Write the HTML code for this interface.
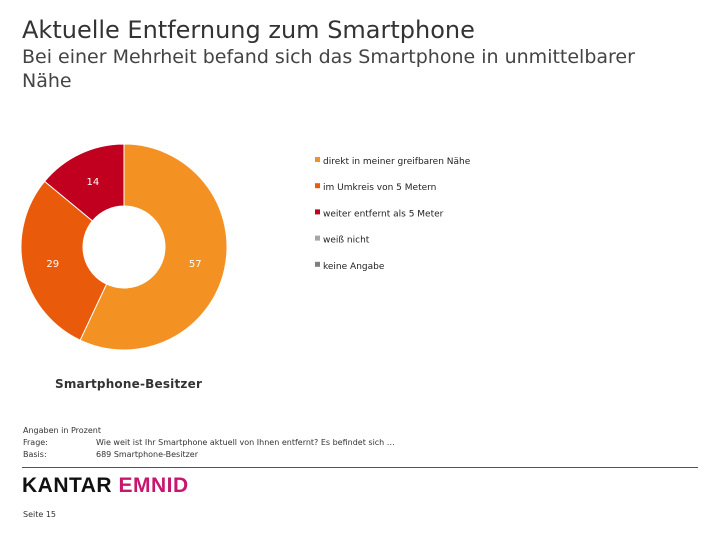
<!DOCTYPE html>
<html><head><meta charset="utf-8"><style>
body{margin:0;width:720px;height:540px;background:#fff;font-family:"Liberation Sans","DejaVu Sans",sans-serif;color:#222;position:relative;overflow:hidden}
.a{position:absolute;white-space:nowrap}
</style></head><body>
<div class="a" style="left:22px;top:16px;font-size:24px;color:#333;font-family:'DejaVu Sans',sans-serif">Aktuelle Entfernung zum Smartphone</div>
<div class="a" style="left:22px;top:45px;font-size:19px;line-height:24px;color:#444;white-space:normal;width:660px;font-family:'DejaVu Sans',sans-serif">Bei einer Mehrheit befand sich das Smartphone in unmittelbarer Nähe</div>
<svg class="a" style="left:0;top:0" width="720" height="540" id="chart"></svg>
<div class="a" style="left:55px;top:377px;font-size:12px;color:#333;font-family:'DejaVu Sans',sans-serif;font-weight:bold;letter-spacing:0.2px">Smartphone-Besitzer</div>
<div class="a" style="left:23px;top:425px;font-size:8px;line-height:12px;color:#333;font-family:'DejaVu Sans',sans-serif">Angaben in Prozent<br>Frage:<span style="position:absolute;left:73px">Wie weit ist Ihr Smartphone aktuell von Ihnen entfernt? Es befindet sich …</span><br>Basis:<span style="position:absolute;left:73px">689 Smartphone-Besitzer</span></div>
<div class="a" style="left:22px;top:467px;width:676px;height:1px;background:#555"></div>
<div class="a" style="left:22px;top:474px;font-size:21px;font-weight:bold;letter-spacing:0.5px"><span style="color:#111">KANTAR</span> <span style="color:#c8166e">EMNID</span></div>
<div class="a" style="left:23px;top:510px;font-size:8px;color:#333;font-family:'DejaVu Sans',sans-serif">Seite 15</div>
<script>
const categories=["direkt in meiner greifbaren Nähe","im Umkreis von 5 Metern","weiter entfernt als 5 Meter","weiß nicht","keine Angabe"];
const values=[57,29,14,0,0];
const colors=["#F39123","#EA5A0B","#C0001E","#A6A6A6","#7F7F7F"];
const svg=document.getElementById('chart');const NS="http://www.w3.org/2000/svg";
const cx=124,cy=247,R=103,r=41;
const total=values.reduce((a,b)=>a+b,0);
let ang=0;
function pt(a,rad){return [cx+rad*Math.sin(a),cy-rad*Math.cos(a)];}
values.forEach((v,i)=>{
 if(v<=0)return;
 const a0=ang,a1=ang+v/total*2*Math.PI;ang=a1;
 const lg=(a1-a0)>Math.PI?1:0;
 const [x0,y0]=pt(a0,R),[x1,y1]=pt(a1,R),[x2,y2]=pt(a1,r),[x3,y3]=pt(a0,r);
 const p=document.createElementNS(NS,'path');
 p.setAttribute('d',`M${x0},${y0}A${R},${R} 0 ${lg} 1 ${x1},${y1}L${x2},${y2}A${r},${r} 0 ${lg} 0 ${x3},${y3}Z`);
 p.setAttribute('fill',colors[i]);p.setAttribute('stroke','#fff');p.setAttribute('stroke-width','1');
 
 
 svg.appendChild(p);
 const [lx,ly]=pt((a0+a1)/2,(R+r)/2+1);
 const t=document.createElementNS(NS,'text');
 t.setAttribute('x',lx);t.setAttribute('y',ly+4);t.setAttribute('fill','#fff');t.setAttribute('font-size','10');t.setAttribute('text-anchor','middle');t.setAttribute('font-family','DejaVu Sans, sans-serif');
 t.textContent=v;
 
 
 svg.appendChild(t);
});
categories.forEach((c,i)=>{
 const y=161+i*26.2;
 const s=document.createElementNS(NS,'rect');
 s.setAttribute('x',315);s.setAttribute('y',y-4);s.setAttribute('width',5);s.setAttribute('height',5);s.setAttribute('fill',colors[i]);
 
 
 svg.appendChild(s);
 const t=document.createElementNS(NS,'text');
 t.setAttribute('x',323);t.setAttribute('y',y+3);t.setAttribute('font-size','9');t.setAttribute('fill','#222');t.setAttribute('font-family','DejaVu Sans, sans-serif');
 t.textContent=c;
 
 
 svg.appendChild(t);
});
</script>
</body></html>
